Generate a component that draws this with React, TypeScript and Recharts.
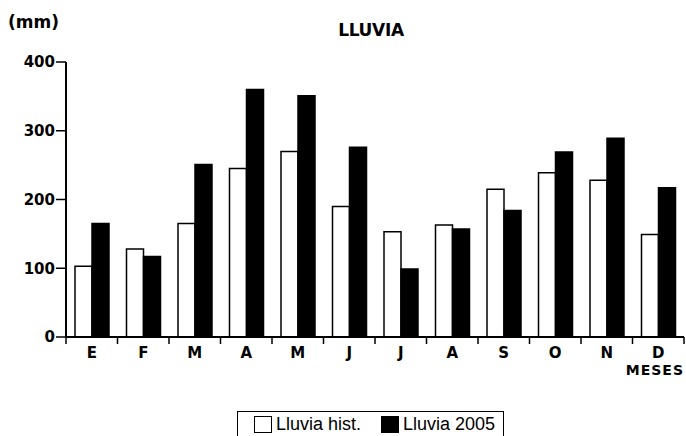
import { Bar, BarChart, Legend, XAxis, YAxis } from "recharts";

const months = ["E", "F", "M", "A", "M", "J", "J", "A", "S", "O", "N", "D"];
const lluviaHist = [103, 128, 165, 245, 270, 190, 153, 163, 215, 239, 228, 149];
const lluvia2005 = [165, 117, 251, 360, 351, 276, 99, 157, 184, 269, 289, 217];
const yTicks = [0, 100, 200, 300, 400];

const data = months.map((mes, i) => ({ mes, hist: lluviaHist[i], y2005: lluvia2005[i] }));

const W = 686;
const H = 436;
const MARGIN = { top: 62, right: 2, left: 0, bottom: 0 };
const Y_W = 66;
const BAND = (W - MARGIN.left - MARGIN.right - Y_W) / months.length;
const BOLD = '"DejaVu Sans", sans-serif';
const seriesOrder = ["hist", "y2005"];
const swatch: Record<string, string> = { hist: "#fff", y2005: "#000" };

function MonthTick(props: any) {
  const { x, y, payload, index } = props;
  return (
    <g>
      <line x1={x - BAND / 2} x2={x - BAND / 2} y1={y} y2={y + 7} stroke="#000" strokeWidth={1.5} />
      {index === months.length - 1 && (
        <line x1={x + BAND / 2} x2={x + BAND / 2} y1={y} y2={y + 7} stroke="#000" strokeWidth={1.5} />
      )}
      <text x={x} y={y + 21} textAnchor="middle" fill="#000" fontSize={15} fontWeight="bold" fontFamily={BOLD}>
        {payload.value}
      </text>
    </g>
  );
}

function LegendBox(props: any) {
  const items = [...(props.payload ?? [])].sort(
    (a: any, b: any) => seriesOrder.indexOf(a.dataKey) - seriesOrder.indexOf(b.dataKey)
  );
  return (
    <div
      style={{
        display: "inline-flex",
        alignItems: "center",
        border: "1.5px solid #000",
        height: 25,
        padding: "0 8px 0 16px",
        fontFamily: '"Liberation Sans", Arial, sans-serif',
        fontSize: 18,
        color: "#000",
        background: "#fff",
      }}
    >
      {items.map((e: any, i: number) => (
        <span key={e.dataKey} style={{ display: "inline-flex", alignItems: "center", marginLeft: i ? 20 : 0 }}>
          <span
            style={{
              display: "inline-block",
              width: 18,
              height: 17,
              boxSizing: "border-box",
              border: "1.5px solid #000",
              background: swatch[e.dataKey],
              marginRight: 4,
            }}
          />
          {e.value}
        </span>
      ))}
    </div>
  );
}

export default function App() {
  return (
    <div style={{ position: "absolute", left: 0, top: 0, width: W, height: H, background: "#fff" }}>
      <div style={{ position: "absolute", left: 8, top: 12, fontFamily: BOLD, fontWeight: "bold", fontSize: 17 }}>
        (mm)
      </div>
      <div
        style={{
          position: "absolute",
          left: 0,
          width: 742,
          top: 20,
          textAlign: "center",
          fontFamily: BOLD,
          fontWeight: "bold",
          fontSize: 17,
          letterSpacing: -0.3,
        }}
      >
        LLUVIA
      </div>
      <BarChart width={W} height={H} data={data} margin={MARGIN} barSize={17} barGap={0}>
        <XAxis
          dataKey="mes"
          interval={0}
          height={72}
          tickLine={false}
          tickSize={0}
          tickMargin={0}
          tick={<MonthTick />}
          axisLine={{ stroke: "#000", strokeWidth: 2 }}
          label={{
            content: (p: any) => (
              <text
                x={p.viewBox.x + p.viewBox.width}
                y={p.viewBox.y + 38}
                textAnchor="end"
                fill="#000"
                fontSize={14}
                fontWeight="bold"
                fontFamily={BOLD}
                letterSpacing={1}
              >
                MESES
              </text>
            ),
          }}
        />
        <YAxis
          width={Y_W}
          domain={[0, 400]}
          ticks={yTicks}
          tickSize={10}
          tickMargin={1}
          axisLine={{ stroke: "#000", strokeWidth: 2 }}
          tickLine={{ stroke: "#000", strokeWidth: 1.5 }}
          tick={{ fill: "#000", fontSize: 15, fontWeight: "bold", fontFamily: BOLD }}
        />
        <Legend
          verticalAlign="bottom"
          content={<LegendBox />}
          wrapperStyle={{ left: 237, bottom: -2, width: "auto" }}
        />
        <Bar dataKey="hist" name="Lluvia hist." fill="#fff" stroke="#000" strokeWidth={1.5} isAnimationActive={false} />
        <Bar dataKey="y2005" name="Lluvia 2005" fill="#000" stroke="#000" strokeWidth={1.5} isAnimationActive={false} />
      </BarChart>
    </div>
  );
}
